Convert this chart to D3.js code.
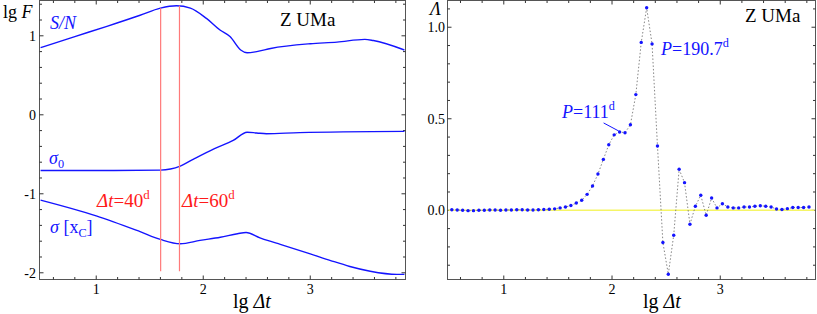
<!DOCTYPE html>
<html>
<head>
<meta charset="utf-8">
<script src="https://cdn.jsdelivr.net/npm/d3@7/dist/d3.min.js"></script>
<style>
  body { margin: 0; background: #fff; }
</style>
</head>
<body>
<svg id="chart" width="817" height="314" font-family="'Liberation Serif', 'Times New Roman', serif"></svg>
<script>
// ---- left panel: lg F against lg dt ----
var snLg   = [0.48, 0.8, 1.1, 1.41, 1.6, 1.75, 1.88, 2.03, 2.16, 2.25, 2.35, 2.41, 2.5, 2.63, 3.0, 3.25, 3.51, 3.59, 3.88];
var snVal  = [0.85, 0.99, 1.12, 1.26, 1.35, 1.38, 1.35, 1.22, 1.07, 0.99, 0.82, 0.785, 0.80, 0.84, 0.90, 0.92, 0.955, 0.94, 0.82];

var s0Lg   = [0.48, 1.0, 1.6, 1.785, 1.91, 2.1, 2.28, 2.41, 2.5, 2.59, 2.9, 3.88];
var s0Val  = [-0.705, -0.705, -0.70, -0.65, -0.56, -0.43, -0.325, -0.22, -0.23, -0.24, -0.225, -0.21];

var sxLg   = [0.48, 1.0, 1.41, 1.6, 1.785, 1.97, 2.16, 2.32, 2.40, 2.53, 2.6, 2.72, 3.0, 3.19, 3.37, 3.56, 3.81, 3.88];
var sxVal  = [-1.08, -1.28, -1.48, -1.578, -1.633, -1.59, -1.55, -1.506, -1.49, -1.557, -1.59, -1.64, -1.76, -1.845, -1.92, -1.98, -2.02, -2.02];

var markLg  = [1.602, 1.778];        // dt = 40d, 60d
var markTop = [1.35, 1.38];
var markBottom = -1.98;

var leftYTicks = [1, 0, -1, -2];
var xTicks = [1, 2, 3];

// ---- right panel: Lambda against lg dt ----
var lamLg = [0.52, 0.57, 0.62, 0.67, 0.72, 0.77, 0.82, 0.87, 0.92, 0.97,
             1.02, 1.07, 1.12, 1.17, 1.22, 1.27, 1.32, 1.37, 1.42, 1.47,
             1.52, 1.57, 1.62, 1.67, 1.72, 1.77, 1.82, 1.87, 1.92, 1.97,
             2.02, 2.07, 2.12, 2.17, 2.22, 2.27, 2.32, 2.37, 2.42, 2.47,
             2.52, 2.57, 2.62, 2.67, 2.72, 2.77, 2.82, 2.87, 2.92, 2.97,
             3.02, 3.07, 3.12, 3.17, 3.22, 3.27, 3.32, 3.37, 3.42, 3.47,
             3.52, 3.57, 3.62, 3.67, 3.72, 3.77, 3.82];
var lamVal = [0.003, 0.002, 0.0, -0.002, -0.002, 0.0, 0.0, 0.002, 0.002, 0.0,
              0.002, 0.002, 0.003, 0.003, 0.002, 0.002, 0.003, 0.004, 0.006, 0.008,
              0.013, 0.018, 0.026, 0.040, 0.055, 0.087, 0.133, 0.198, 0.278, 0.358,
              0.412, 0.428, 0.424, 0.467, 0.632, 0.917, 1.106, 0.909, 0.351, -0.176,
              -0.349, -0.136, 0.224, 0.151, -0.076, 0.022, 0.082, -0.027, 0.067, 0.013,
              0.036, 0.018, 0.013, 0.013, 0.018, 0.018, 0.022, 0.025, 0.022, 0.018,
              0.007, 0.004, 0.009, 0.015, 0.015, 0.015, 0.018];
var rightYTicks = [0.0, 0.5, 1.0];
var rightYLabels = ["0.0", "0.5", "1.0"];

var blue = "#1414ff", red = "#ff1a1a", pink = "#ff7a7a";

var svg = d3.select("#chart");

// rich text: parts = [{t, it, sup, sub}], shifts carried onto the next part
function richText(g, x, y, size, color, parts) {
    var txt = g.append("text").attr("x", x).attr("y", y)
        .attr("font-size", size).attr("fill", color);
    var prev = 0;
    parts.forEach(p => {
        var shift = p.sup ? -0.42 * size : p.sub ? 0.22 * size : 0;
        var ts = txt.append("tspan").text(p.t)
            .attr("font-style", p.it ? "italic" : "normal")
            .attr("font-size", (p.sup || p.sub) ? size * 0.68 : size);
        if (shift - prev !== 0) ts.attr("dy", shift - prev);
        prev = shift;
    });
    return txt;
}

function frame(x, y, minorX) {
    var g = svg.append("g");
    var x0 = x.range()[0], x1 = x.range()[1], y0 = y.range()[0], y1 = y.range()[1];
    g.append("rect").attr("x", x0).attr("y", y1).attr("width", x1 - x0).attr("height", y0 - y1)
        .attr("fill", "none").attr("stroke", "#555").attr("stroke-width", 1);
    var xd = x.domain();
    d3.range(Math.ceil(xd[0] / minorX), Math.floor(xd[1] / minorX) + 1).forEach(i => {
        var v = i * minorX, major = Math.abs(v - Math.round(v)) < 1e-6, len = major ? 4 : 2.5;
        g.append("line").attr("x1", x(v)).attr("x2", x(v)).attr("y1", y0).attr("y2", y0 - len).attr("stroke", "#333");
        g.append("line").attr("x1", x(v)).attr("x2", x(v)).attr("y1", y1).attr("y2", y1 + len).attr("stroke", "#333");
    });
    return g;
}

function yTicksDraw(g, x, y, minor, majorStep) {
    var x0 = x.range()[0], x1 = x.range()[1], yd = y.domain();
    d3.range(Math.ceil(yd[0] / minor - 1e-6), Math.floor(yd[1] / minor + 1e-6) + 1).forEach(i => {
        var v = i * minor, q = v / majorStep, major = Math.abs(q - Math.round(q)) < 1e-6, len = major ? 4 : 2.5;
        g.append("line").attr("x1", x0).attr("x2", x0 + len).attr("y1", y(v)).attr("y2", y(v)).attr("stroke", "#333");
        g.append("line").attr("x1", x1).attr("x2", x1 - len).attr("y1", y(v)).attr("y2", y(v)).attr("stroke", "#333");
    });
}

// ================= left panel =================
var xL = d3.scaleLinear().domain([0.47, 3.89]).range([39.5, 405.5]);
var yL = d3.scaleLinear().domain([-2.085, 1.447]).range([279.5, 0.5]);

var gL = frame(xL, yL, 0.2);
yTicksDraw(gL, xL, yL, 0.2, 1);

gL.selectAll(".ylab").data(leftYTicks).enter().append("text")
    .attr("x", 36).attr("y", d => yL(d) + 5).attr("text-anchor", "end")
    .attr("font-size", 14).text(d => String(d));
gL.selectAll(".xlab").data(xTicks).enter().append("text")
    .attr("x", d => xL(d)).attr("y", 294).attr("text-anchor", "middle")
    .attr("font-size", 14).text(d => String(d));

var lineL = d3.line().curve(d3.curveMonotoneX).x(d => xL(d[0])).y(d => yL(d[1]));
[[snLg, snVal], [s0Lg, s0Val], [sxLg, sxVal]].forEach(s => {
    gL.append("path").datum(d3.zip(s[0], s[1])).attr("d", lineL)
        .attr("fill", "none").attr("stroke", blue).attr("stroke-width", 1.4);
});

markLg.forEach((v, i) => {
    gL.append("line").attr("x1", xL(v)).attr("x2", xL(v))
        .attr("y1", yL(markTop[i])).attr("y2", yL(markBottom))
        .attr("stroke", pink).attr("stroke-width", 1.2);
});

richText(gL, 3, 18, 18, "#000", [{t: "lg "}, {t: "F", it: true}]);
richText(gL, 50, 29, 18, blue, [{t: "S/N", it: true}]);
richText(gL, 280, 26, 19, "#000", [{t: "Z UMa"}]);
richText(gL, 49, 164, 18, blue, [{t: "\u03C3", it: true}, {t: "0", sub: true}]);
richText(gL, 50, 233, 18, blue, [{t: "\u03C3", it: true}, {t: " [x"}, {t: "C", sub: true}, {t: "]"}]);
richText(gL, 97, 207, 19, red, [{t: "\u0394t", it: true}, {t: "=40"}, {t: "d", sup: true}]);
richText(gL, 182, 207, 19, red, [{t: "\u0394t", it: true}, {t: "=60"}, {t: "d", sup: true}]);
richText(gL, 233, 308, 20, "#000", [{t: "lg "}, {t: "\u0394t", it: true}]);

// ================= right panel =================
var xR = d3.scaleLinear().domain([0.48, 3.88]).range([447.5, 815.5]);
var yR = d3.scaleLinear().domain([-0.378, 1.146]).range([279.5, 0.5]);

var gR = frame(xR, yR, 0.2);
yTicksDraw(gR, xR, yR, 0.1, 0.5);

gR.selectAll(".ylab").data(rightYTicks).enter().append("text")
    .attr("x", 445).attr("y", d => yR(d) + 5).attr("text-anchor", "end")
    .attr("font-size", 14).text((d, i) => rightYLabels[i]);
gR.selectAll(".xlab").data(xTicks).enter().append("text")
    .attr("x", d => xR(d)).attr("y", 294).attr("text-anchor", "middle")
    .attr("font-size", 14).text(d => String(d));

gR.append("line").attr("x1", xR.range()[0] + 1).attr("x2", xR.range()[1] - 1)
    .attr("y1", yR(0)).attr("y2", yR(0)).attr("stroke", "#f5f566").attr("stroke-width", 1.6);

var lamPts = d3.zip(lamLg, lamVal);
gR.append("path").datum(lamPts)
    .attr("d", d3.line().x(d => xR(d[0])).y(d => yR(d[1])))
    .attr("fill", "none").attr("stroke", "#777").attr("stroke-width", 0.9)
    .attr("stroke-dasharray", "1.5,2");
gR.selectAll("circle").data(lamPts).enter().append("circle")
    .attr("cx", d => xR(d[0])).attr("cy", d => yR(d[1])).attr("r", 1.7).attr("fill", blue);

// leader for P = 111d, pointing at the shoulder point
var shoulder = lamPts[31];
gR.append("line").attr("x1", xR(shoulder[0]) - 16).attr("y1", yR(shoulder[1]) - 9)
    .attr("x2", xR(shoulder[0]) - 1).attr("y2", yR(shoulder[1]) - 1)
    .attr("stroke", blue).attr("stroke-width", 1);

richText(gR, 430, 15, 18, "#000", [{t: "\u039B", it: true}]);
richText(gR, 745, 22, 19, "#000", [{t: "Z UMa"}]);
richText(gR, 562, 118, 18, blue, [{t: "P", it: true}, {t: "=111"}, {t: "d", sup: true}]);
richText(gR, 661, 55, 18, blue, [{t: "P", it: true}, {t: "=190.7"}, {t: "d", sup: true}]);
richText(gR, 643, 308, 20, "#000", [{t: "lg "}, {t: "\u0394t", it: true}]);
</script>
</body>
</html>
